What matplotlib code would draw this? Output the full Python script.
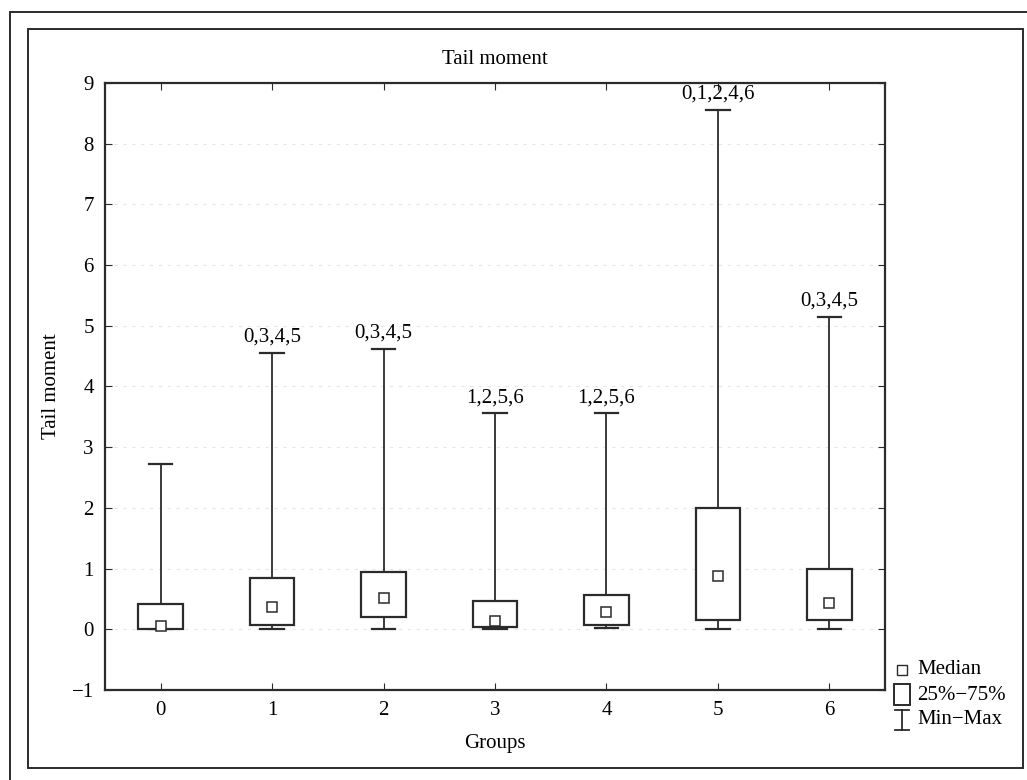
import numpy as np
import matplotlib.pyplot as plt
from matplotlib.patches import Rectangle
from matplotlib.lines import Line2D

plt.rcParams['font.family'] = ['Liberation Serif', 'DejaVu Serif']

#==================================================================
# values
groups = ['0', '1', '2', '3', '4', '5', '6']
medians = [0.06, 0.36, 0.51, 0.13, 0.28, 0.87, 0.44]
q25 = [0.00, 0.07, 0.21, 0.03, 0.07, 0.15, 0.16]
q75 = [0.42, 0.84, 0.95, 0.46, 0.57, 2.00, 1.00]
mins = [0.00, 0.00, 0.00, 0.00, 0.02, 0.00, 0.00]
maxs = [2.73, 4.56, 4.62, 3.56, 3.56, 8.56, 5.15]
sig_labels = ['', '0,3,4,5', '0,3,4,5', '1,2,5,6', '1,2,5,6', '0,1,2,4,6', '0,3,4,5']
#==================================================================

fig = plt.figure(figsize=(10.27, 7.8), dpi=100)
ax = fig.add_axes([105/1027, 1 - 690/780, 780/1027, 607/780])

lc = '#2b2b2b'
fs = 15
box_w = 0.40
cap_w = 0.21

for i in range(len(groups)):
    # whiskers and caps
    ax.plot([i, i], [q75[i], maxs[i]], color=lc, lw=1.3)
    ax.plot([i, i], [mins[i], q25[i]], color=lc, lw=1.3)
    ax.plot([i - cap_w/2, i + cap_w/2], [maxs[i]] * 2, color=lc, lw=1.6)
    ax.plot([i - cap_w/2, i + cap_w/2], [mins[i]] * 2, color=lc, lw=1.6)
    # 25-75 box
    ax.add_patch(Rectangle((i - box_w/2, q25[i]), box_w, q75[i] - q25[i],
                           fill=True, facecolor='white', edgecolor=lc, lw=1.6, zorder=3))
    # median marker
    ax.plot(i, medians[i], marker='s', ms=7.5, mfc='white', mec=lc, mew=1.1, zorder=4)
    if sig_labels[i]:
        ax.text(i, maxs[i] + 0.1, sig_labels[i], ha='center', va='bottom', fontsize=fs)

ax.set_xlim(-0.5, 6.5)
ax.set_ylim(-1, 9)
ax.set_xticks(range(len(groups)))
ax.set_xticklabels(groups)
ax.set_yticks(range(-1, 10))
ax.set_yticklabels(['\u22121'] + [str(v) for v in range(0, 10)])
ax.tick_params(direction='in', top=True, right=True, length=5, labelsize=fs, color=lc, pad=8)
ax.yaxis.grid(True, color='#e6e6e6', lw=0.8, ls=(0, (3, 5)))
ax.set_axisbelow(True)
for s in ax.spines.values():
    s.set_color(lc)
    s.set_linewidth(1.6)

ax.set_title('Tail moment', fontsize=fs, pad=14)
ax.set_xlabel('Groups', fontsize=fs, labelpad=10)
ax.set_ylabel('Tail moment', fontsize=fs, labelpad=8)

# legend drawn by hand in figure pixels
def fx(px):
    return px / 1027

def fy(py):
    return 1 - py / 780

fig.add_artist(Line2D([fx(902)], [fy(670)], marker='s', ms=7, mfc='white', mec=lc, mew=1.0,
                      transform=fig.transFigure))
fig.add_artist(Rectangle((fx(894), fy(705)), fx(16), 21/780, fill=False, ec=lc, lw=1.4,
                         transform=fig.transFigure))
fig.add_artist(Line2D([fx(902), fx(902)], [fy(710), fy(730)], color=lc, lw=1.3))
fig.add_artist(Line2D([fx(895), fx(909)], [fy(710)] * 2, color=lc, lw=1.3))
fig.add_artist(Line2D([fx(895), fx(909)], [fy(730)] * 2, color=lc, lw=1.3))
fig.text(fx(917), fy(670), 'Median', fontsize=fs, va='center')
fig.text(fx(917), fy(695), '25%\u221275%', fontsize=fs, va='center')
fig.text(fx(917), fy(720), 'Min\u2212Max', fontsize=fs, va='center')

# frames around the plot
fig.add_artist(Rectangle((fx(28), fy(768)), fx(995), 739/780, fill=False, ec=lc, lw=1.4,
                         transform=fig.transFigure))
fig.add_artist(Rectangle((fx(10), fy(790)), fx(1040), 778/780, fill=False, ec=lc, lw=1.4,
                         transform=fig.transFigure))

fig.savefig('out.png', dpi=100)
